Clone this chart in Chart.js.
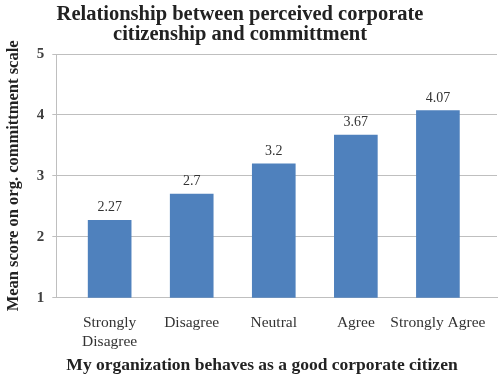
<!DOCTYPE html>
<html><head><meta charset="utf-8">
<script src="https://cdn.jsdelivr.net/npm/chart.js@4/dist/chart.umd.min.js"></script>
<style>html,body{margin:0;padding:0;background:#fff}</style>
</head><body>
<canvas id="c" width="500" height="381" style="display:block;width:500px;height:381px"></canvas>
<script>
const categories = [['Strongly','Disagree'], 'Disagree', 'Neutral', 'Agree', 'Strongly Agree'];
const values = [2.27, 2.7, 3.2, 3.67, 4.07];
const yTickValues = [1, 2, 3, 4, 5];
const titleLines = ['Relationship between perceived corporate', 'citizenship and committment'];
const xTitle = 'My organization behaves as a good corporate citizen';
const yTitle = 'Mean score on org. committment scale';

const SERIF = "'Liberation Serif', 'Times New Roman', serif";

const textPlugin = {
  id: 'textPlugin',
  afterDatasetsDraw(chart) {
    const ctx = chart.ctx;
    const meta = chart.getDatasetMeta(0);
    ctx.save();
    ctx.font = "14px " + SERIF;
    ctx.fillStyle = '#333333';
    ctx.textAlign = 'center';
    ctx.textBaseline = 'alphabetic';
    meta.data.forEach((bar, i) => {
      ctx.fillText(String(values[i]), bar.x, bar.y - 9);
    });
    ctx.restore();
  },
  afterDraw(chart) {
    const ctx = chart.ctx;
    ctx.save();
    ctx.fillStyle = '#222222';
    ctx.textAlign = 'center';
    ctx.textBaseline = 'alphabetic';
    ctx.font = "bold 20.5px " + SERIF;
    ctx.fillText(titleLines[0], 240, 20);
    ctx.fillText(titleLines[1], 240, 40);
    ctx.font = "bold 17.5px " + SERIF;
    ctx.fillText(xTitle, 262, 370);
    ctx.restore();
  }
};

new Chart(document.getElementById('c'), {
  type: 'bar',
  data: {
    datasets: [{
      data: values.map((v, i) => ({ x: i, y: v })),
      backgroundColor: '#4F81BD',
      borderWidth: 0,
      barThickness: 43
    }]
  },
  options: {
    responsive: false,
    devicePixelRatio: 1,
    animation: false,
    layout: { padding: { top: 54, right: 3, bottom: 22, left: 4 } },
    plugins: { legend: { display: false }, title: { display: false }, tooltip: { enabled: false } },
    scales: {
      x: {
        type: 'linear',
        offset: false,
        min: -0.65,
        max: 4.72,
        afterBuildTicks(scale) { scale.ticks = categories.map((_, i) => ({ value: i })); },
        grid: { display: false, offset: false },
        border: { display: true, color: '#BFBFBF', width: 1 },
        ticks: {
          autoSkip: false, maxRotation: 0, padding: 8,
          font: { family: SERIF, size: 15.5 }, color: '#333333',
          callback: (v) => categories[v]
        }
      },
      y: {
        min: 1, max: 5,
        afterBuildTicks(scale) { scale.ticks = yTickValues.map(v => ({ value: v })); },
        grid: { color: '#BFBFBF', lineWidth: 1, tickLength: 4 },
        border: { display: true, color: '#BFBFBF', width: 1 },
        ticks: { padding: 8, font: { family: SERIF, size: 15, weight: 'bold' }, color: '#404040' },
        title: { display: true, text: yTitle, font: { family: SERIF, size: 16.5, weight: 'bold' }, color: '#222222', padding: { top: 0, bottom: 5 } }
      }
    }
  },
  plugins: [textPlugin]
});
</script>
</body></html>
